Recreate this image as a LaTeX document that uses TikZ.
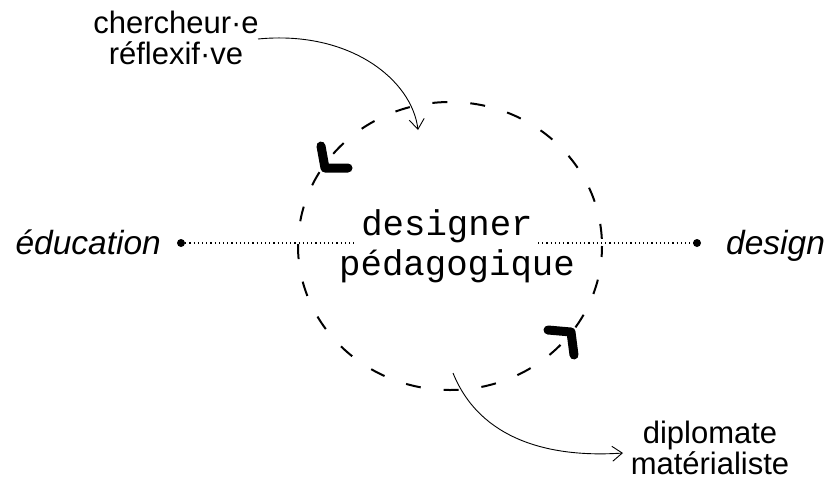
\documentclass[tikz,border=0pt]{standalone}
\usepackage{fontspec}
\setmainfont{Liberation Sans}
\newfontfamily\monofnt{Liberation Mono}
\usetikzlibrary{arrows.meta}
\tikzset{
  lbl/.style={font=\fontsize{31}{31}\selectfont, align=center, inner sep=0pt},
  side/.style={font=\fontsize{33.5}{34}\selectfont\itshape, inner sep=0pt, anchor=base},
  center/.style={font=\monofnt\fontsize{35.7}{40}\selectfont, inner sep=0pt, anchor=base},
  dotline/.style={line width=1.2pt, dash pattern=on 1.2pt off 3pt},
  curvearrow/.style={line width=0.9pt, -{Straight Barb[length=10pt,width=15pt,line width=0.9pt]}},
  hook/.style={line width=9pt, line cap=round, line join=round},
  ring/.style={line width=2pt, dash pattern=on 15pt off 23pt, dash phase=4pt}
}
\begin{document}
\begin{tikzpicture}[x=1pt,y=-1pt]
\useasboundingbox (0,0) rectangle (825,483);
% dashed ring
\draw[ring] (450,246) ellipse [x radius=152, y radius=144];
% hooks
\draw[hook] (321,146) -- (325,168) -- (348,168);
\draw[hook] (548,330) -- (571,332) -- (574,355);
% centre text
\node[center] (t1) at (447,235) {designer};
\node[center] (t2) at (457,275) {pédagogique};
% sides
\node[side, anchor=base east] (edu) at (161,254) {éducation};
\node[side, anchor=base west] (des) at (726,254) {design};
\fill (181,243) circle (4pt) coordinate (ldot);
\fill (697,243) circle (4pt) coordinate (rdot);
\coordinate (lend) at (356,243);
\coordinate (rend) at (538,243);
\draw[dotline] (ldot) -- (lend);
\draw[dotline] (rend) -- (rdot);
% top label and arrow
\node[lbl] (top) at (176,38) {chercheur·e\\réflexif·ve};
\coordinate (ta) at (258,39);
\coordinate (tb) at (418,130);
\draw[curvearrow] (ta) .. controls (350,30) and (412,80) .. (tb);
% bottom label and arrow
\node[lbl] (bot) at (710,448) {diplomate\\matérialiste};
\coordinate (ba) at (453,373);
\coordinate (bb) at (623,453);
\draw[curvearrow] (ba) .. controls (480,440) and (550,458) .. (bb);
\end{tikzpicture}
\end{document}
